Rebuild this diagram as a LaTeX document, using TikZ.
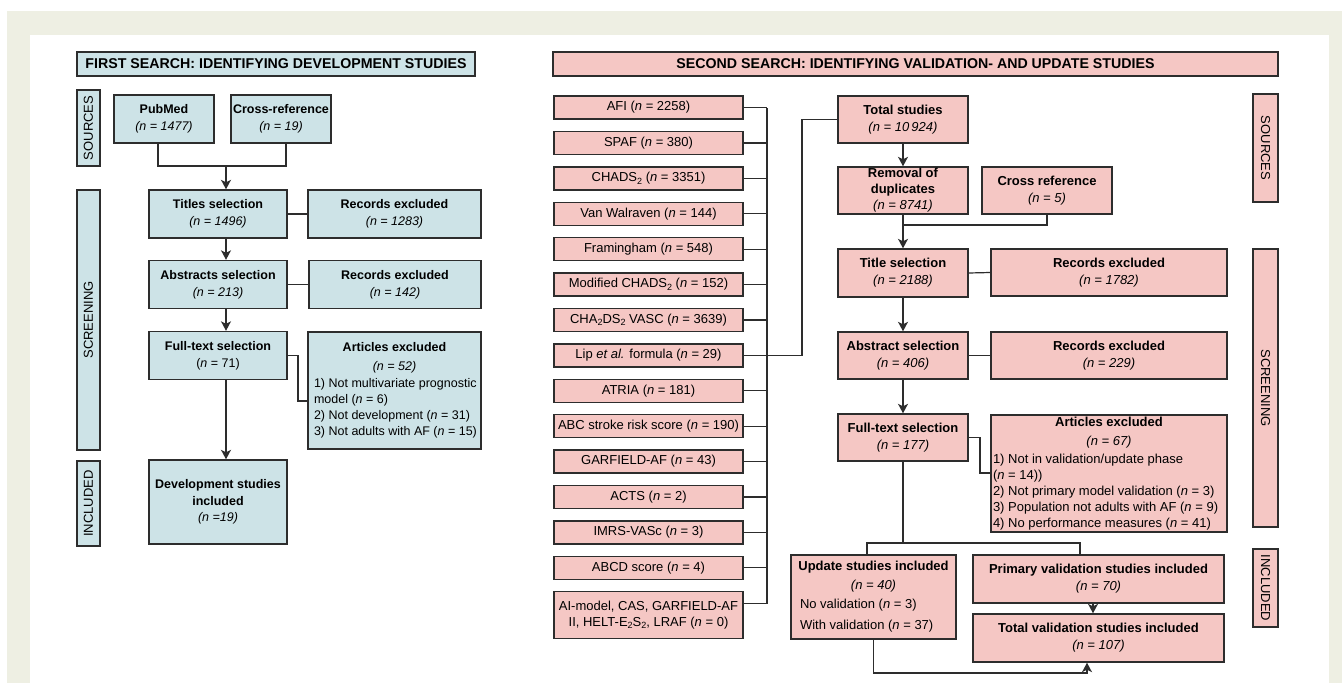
\documentclass[tikz,border=0pt]{standalone}
\usepackage{fontspec}
\setmainfont{Liberation Sans}
\usetikzlibrary{positioning,arrows.meta}
\definecolor{devblue}{RGB}{205,227,231}
\definecolor{valpink}{RGB}{245,199,196}
\definecolor{framebg}{RGB}{238,239,227}
\definecolor{linegray}{RGB}{45,45,45}
\newcommand{\nvar}{\textit{n}}
\newcommand{\listline}[2][161pt]{\makebox[#1][l]{#2}}
\newcommand{\subtxt}[1]{\raisebox{-2.5pt}{\fontsize{9}{9}\selectfont #1}}
\begin{document}
\begin{tikzpicture}[x=1pt, y=-1pt, >={Stealth[length=9.5pt,width=10pt,inset=2.5pt]},
  every node/.style={draw=linegray, line width=1.4pt, inner sep=2pt, align=center},
  conn/.style={linegray, line width=1.2pt},
  devbox/.style={fill=devblue, font=\fontsize{12.5}{17}\selectfont, minimum height=48pt},
  valbox/.style={fill=valpink, font=\fontsize{13}{17}\selectfont, minimum height=47pt},
  listbox/.style={fill=valpink, font=\fontsize{13}{16}\selectfont, minimum width=189pt, minimum height=23pt, inner sep=1pt},
  phase/.style={font=\fontsize{13}{15}\selectfont, inner sep=0pt},
  headbox/.style={font=\bfseries\fontsize{14.2}{17}\selectfont, minimum height=24pt}]

  % backdrop
  \fill[white] (0,0) rectangle (1342,683);
  \fill[framebg] (7,11) rectangle (1342,683);
  \fill[white] (30,35) rectangle (1329,683);
  \useasboundingbox (0,0) rectangle (1342,683);

  % first search
  \node[headbox, fill=devblue, minimum width=398pt] (head1) at (276,64) {FIRST SEARCH: IDENTIFYING DEVELOPMENT STUDIES};
  \node[phase, fill=devblue, rotate=90, minimum width=76pt, minimum height=23pt] (src1) at (88.5,128) {SOURCES};
  \node[phase, fill=devblue, rotate=90, minimum width=260pt, minimum height=23pt] (scr1) at (88.5,320) {SCREENING};
  \node[phase, fill=devblue, rotate=90, minimum width=85pt, minimum height=23pt] (inc1) at (88.5,503.5) {INCLUDED};

  \node[devbox, minimum width=100pt] (pubmed) at (164,119) {\textbf{PubMed}\\\textit{(n = 1477)}};
  \node[devbox, minimum width=100pt] (xref1) at (281,119) {\textbf{Cross-reference}\\\textit{(n = 19)}};
  \node[devbox, minimum width=138pt] (tit1) at (218,214) {\textbf{Titles selection}\\\textit{(n = 1496)}};
  \node[devbox, minimum width=173pt] (rec1) at (394.5,214) {\textbf{Records excluded}\\\textit{(n = 1283)}};
  \node[devbox, minimum width=138pt] (abs1) at (218,284.5) {\textbf{Abstracts selection}\\\textit{(n = 213)}};
  \node[devbox, minimum width=172pt] (rec2) at (395,284.5) {\textbf{Records excluded}\\\textit{(n = 142)}};
  \node[devbox, minimum width=138pt] (ful1) at (218,355.5) {\textbf{Full-text selection}\\(\nvar{} = 71)};
  \node[devbox, minimum width=173pt, minimum height=117pt, font=\fontsize{12.5}{16}\selectfont] (art1) at (394.5,390.5)
    {\textbf{Articles excluded}\\[3pt]\textit{(n = 52)}\\[1pt]
     \listline{1) Not multivariate prognostic}\\
     \listline{model (\nvar{} = 6)}\\
     \listline{2) Not development (\nvar{} = 31)}\\
     \listline{3) Not adults with AF (\nvar{} = 15)}};
  \node[devbox, minimum width=138pt, minimum height=84pt, font=\fontsize{12.5}{16.5}\selectfont] (dev1) at (218,502)
    {\textbf{Development studies}\\\textbf{included}\\\textit{(n =19)}};

  \coordinate (j1) at (226,166);
  \draw[conn] ([xshift=-6pt]pubmed.south) |- (j1) -| ([xshift=5pt]xref1.south);
  \draw[conn,->] (j1) -- (j1 |- tit1.north);
  \draw[conn] (tit1.east) -- (rec1.west);
  \draw[conn,->] ([xshift=8pt]tit1.south) -- ([xshift=8pt]abs1.north);
  \draw[conn] (abs1.east) -- (rec2.west);
  \draw[conn,->] ([xshift=8pt]abs1.south) -- ([xshift=8pt]ful1.north);
  \coordinate (k1) at (298,401);
  \draw[conn] (ful1.east) -| (k1) -- (k1 -| art1.west);
  \draw[conn,->] ([xshift=8pt]ful1.south) -- ([xshift=8pt]dev1.north);

  % second search
  \node[headbox, fill=valpink, minimum width=725pt] (head2) at (915.5,64) {SECOND SEARCH: IDENTIFYING VALIDATION- AND UPDATE STUDIES};
  \node[phase, fill=valpink, rotate=-90, minimum width=108pt, minimum height=25pt] (src2) at (1265.5,148) {SOURCES};
  \node[phase, fill=valpink, rotate=-90, minimum width=278pt, minimum height=25pt] (scr2) at (1265.5,388) {SCREENING};
  \node[phase, fill=valpink, rotate=-90, minimum width=78pt, minimum height=25pt] (inc2) at (1265.5,588) {INCLUDED};

  \node[listbox] (m1) at (648.5,107.5) {AFI (\nvar{} = 2258)};
  \node[listbox, below=11pt of m1] (m2) {SPAF (\nvar{} = 380)};
  \node[listbox, below=11pt of m2] (m3) {CHADS\subtxt{2} (\nvar{} = 3351)};
  \node[listbox, below=11pt of m3] (m4) {Van Walraven (\nvar{} = 144)};
  \node[listbox, below=11pt of m4] (m5) {Framingham (\nvar{} = 548)};
  \node[listbox, below=11pt of m5] (m6) {Modified CHADS\subtxt{2} (\nvar{} = 152)};
  \node[listbox, below=11pt of m6] (m7) {CHA\subtxt{2}DS\subtxt{2} VASC (\nvar{} = 3639)};
  \node[listbox, below=11pt of m7] (m8) {Lip \textit{et al.} formula (\nvar{} = 29)};
  \node[listbox, below=11pt of m8] (m9) {ATRIA (\nvar{} = 181)};
  \node[listbox, below=11pt of m9] (m10) {ABC stroke risk score (\nvar{} = 190)};
  \node[listbox, below=11pt of m10] (m11) {GARFIELD-AF (\nvar{} = 43)};
  \node[listbox, below=11pt of m11] (m12) {ACTS (\nvar{} = 2)};
  \node[listbox, below=11pt of m12] (m13) {IMRS-VASc (\nvar{} = 3)};
  \node[listbox, below=11pt of m13] (m14) {ABCD score (\nvar{} = 4)};
  \node[listbox, below=11pt of m14, minimum height=47pt] (m15) {AI-model, CAS, GARFIELD-AF\\II, HELT-E\subtxt{2}S\subtxt{2}, LRAF (\nvar{} = 0)};

  \coordinate (bus) at (767,0);
  \foreach \i in {1,...,14} \draw[conn] (m\i.east) -- (m\i.east -| bus);
  \draw[conn] ([yshift=12pt]m15.east) -| (bus |- m1.east);

  \node[valbox, minimum width=130pt] (tot) at (903,119.5) {\textbf{Total studies}\\\textit{(n = 10\,924)}};
  \node[valbox, minimum width=130pt, inner sep=0pt, font=\fontsize{13}{16}\selectfont] (rem) at (903,190.5) {\textbf{Removal of}\\\textbf{duplicates}\\\textit{(n = 8741)}};
  \node[valbox, minimum width=130pt] (xref2) at (1047,190.5) {\textbf{Cross reference}\\\textit{(n = 5)}};
  \node[valbox, minimum width=130pt, minimum height=48pt] (tit2) at (903,273) {\textbf{Title selection}\\\textit{(n = 2188)}};
  \node[valbox, minimum width=236pt] (rec3) at (1109,272.5) {\textbf{Records excluded}\\\textit{(n = 1782)}};
  \node[valbox, minimum width=130pt] (abs2) at (903,355.5) {\textbf{Abstract selection}\\\textit{(n = 406)}};
  \node[valbox, minimum width=236pt] (rec4) at (1109,355.5) {\textbf{Records excluded}\\\textit{(n = 229)}};
  \node[valbox, minimum width=130pt] (ful2) at (903,437.5) {\textbf{Full-text selection}\\\textit{(n = 177)}};
  \node[valbox, minimum width=236pt, minimum height=117pt, inner sep=1pt, font=\fontsize{13}{16}\selectfont] (art2) at (1109,473.5)
    {\textbf{Articles excluded}\\[3pt]\textit{(n = 67)}\\[2pt]
     \listline[232pt]{1) Not in validation/update phase}\\
     \listline[232pt]{(\nvar{} = 14))}\\
     \listline[232pt]{2) Not primary model validation (\nvar{} = 3)}\\
     \listline[232pt]{3) Population not adults with AF (\nvar{} = 9)}\\
     \listline[232pt]{4) No performance measures (\nvar{} = 41)}};
  \node[valbox, minimum width=165pt, minimum height=84pt, font=\fontsize{13}{16}\selectfont] (upd) at (873.5,597)
    {\textbf{Update studies included}\\[3pt]\textit{(n = 40)}\\[3pt]
     \listline[147pt]{No validation (\nvar{} = 3)}\\[5pt]
     \listline[147pt]{With validation (\nvar{} = 37)}};
  \node[valbox, minimum width=251pt, minimum height=48pt] (prim) at (1098.5,579) {\textbf{Primary validation studies included}\\\textit{(n = 70)}};
  \node[valbox, minimum width=251pt, minimum height=48pt] (totv) at (1098.5,638) {\textbf{Total validation studies included}\\\textit{(n = 107)}};

  \coordinate (lipk) at (802,119.5);
  \draw[conn] (m8.east) -| (lipk) -- (tot.west);
  \draw[conn,->] (tot.south) -- (rem.north);
  \coordinate (j2) at (903,225);
  \draw[conn] (rem.south) -- (j2) -| (xref2.south);
  \draw[conn,->] (j2) -- (tit2.north);
  \draw[conn] (tit2.east) -- (rec3.west);
  \draw[conn,->] (tit2.south) -- (abs2.north);
  \draw[conn] (abs2.east) -- (rec4.west);
  \draw[conn,->] (abs2.south) -- (ful2.north);
  \coordinate (k2) at (980,473);
  \draw[conn] (ful2.east) -| (k2) -- (k2 -| art2.west);
  \coordinate (j3) at (903,543);
  \draw[conn] (ful2.south) -- (j3);
  \draw[conn] ([xshift=-6.5pt]upd.north) |- (j3) -| ([xshift=-18.5pt]prim.north);
  \draw[conn,->] ([xshift=-5.5pt]prim.south) -- ([xshift=-5.5pt]totv.north);
  \coordinate (j4) at (1087,673);
  \draw[conn,->] (upd.south) |- (j4) -- (j4 |- totv.south);
\end{tikzpicture}
\end{document}
